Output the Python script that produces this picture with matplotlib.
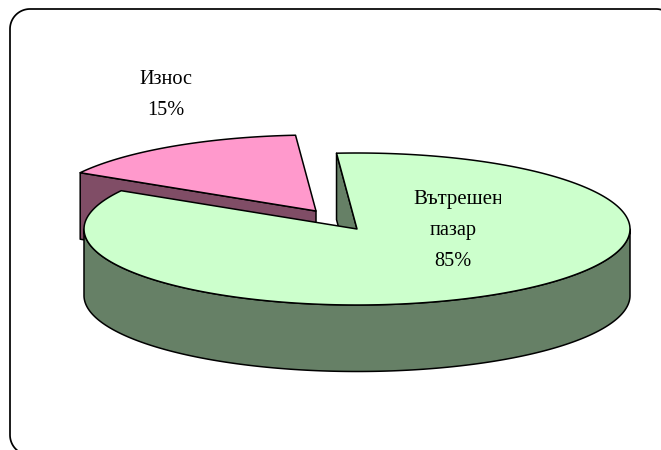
import numpy as np
import matplotlib
matplotlib.use("Agg")
import matplotlib.pyplot as plt
from matplotlib.patches import Polygon, Rectangle

# Data
categories = ["Вътрешен пазар", "Износ"]
shares = [84.6, 15.4]          # underlying shares
percent_labels = ["85%", "15%"]

# Style / layout (pixel space of the 661x450 figure)
W, H = 661, 450
A, B, DEPTH = 273, 76, 66.5
START_ANGLE = -4.3
CENTER_MAIN = (357, 229)
CENTER_EXPLODED = (316, 211)
GREEN, GREEN_DARK = "#CCFFCC", "#668066"
PINK, PINK_DARK = "#FF99CC", "#804D66"
LW = 1.1
FRAME_L, FRAME_T, FRAME_R, FRAME_B, FRAME_RADIUS = 10, 9, 676, 455, 20

plt.rcParams["font.family"] = ["Liberation Serif", "DejaVu Sans"]
fig = plt.figure(figsize=(W / 100, H / 100), dpi=100)
ax = fig.add_axes([0, 0, 1, 1])
ax.set_xlim(0, W)
ax.set_ylim(H, 0)
ax.axis("off")


def arc(center, t0, t1, dy=0, n=240):
    t = np.radians(np.linspace(t0, t1, n))
    return np.column_stack([center[0] + A * np.sin(t), center[1] + dy - B * np.cos(t)])


def add(points, color, z):
    ax.add_patch(Polygon(points, closed=True, facecolor=color, edgecolor="black",
                         linewidth=LW, joinstyle="round", zorder=z))


def corner(xc, yc, a0, a1, r=FRAME_RADIUS, n=30):
    a = np.radians(np.linspace(a0, a1, n))
    return np.column_stack([xc + r * np.cos(a), yc + r * np.sin(a)])


sweeps = [s / sum(shares) * 360 for s in shares]
main_t0, main_t1 = START_ANGLE, START_ANGLE + sweeps[0]
exp_t0, exp_t1 = main_t1 - 360, main_t1 - 360 + sweeps[1]

# Exploded slice (export): side wall, then top
cx, cy = CENTER_EXPLODED
p_left = arc(CENTER_EXPLODED, exp_t0, exp_t0, n=1)[0]
add([p_left, (cx, cy), (cx, cy + DEPTH), (p_left[0], p_left[1] + DEPTH)], PINK_DARK, 1)
add(np.vstack([[(cx, cy)], arc(CENTER_EXPLODED, exp_t0, exp_t1)]), PINK, 2)

# Main slice: rim, radial wall, top
mx, my = CENTER_MAIN
rim_top = arc(CENTER_MAIN, 90, 270)
rim_bottom = arc(CENTER_MAIN, 270, 90, dy=DEPTH)
add(np.vstack([rim_top, rim_bottom]), GREEN_DARK, 3)
p_start = arc(CENTER_MAIN, main_t0, main_t0, n=1)[0]
add([p_start, (mx, my), (mx, my + DEPTH), (p_start[0], p_start[1] + DEPTH)], GREEN_DARK, 3)
add(np.vstack([[(mx, my)], arc(CENTER_MAIN, main_t0, main_t1)]), GREEN, 4)

# Frame, running off the right and bottom edges
r = FRAME_RADIUS
frame = np.vstack([
    corner(FRAME_L + r, FRAME_B - r, 90, 180),
    corner(FRAME_L + r, FRAME_T + r, 180, 270),
    corner(FRAME_R - r, FRAME_T + r, 270, 360),
])
ax.plot(frame[:, 0], frame[:, 1], color="black", linewidth=1.25, zorder=6)

# Labels
FS = 14.6
ax.text(166, 84, categories[1].split()[0], fontsize=FS, ha="center", va="baseline", zorder=7)
ax.text(166, 115, percent_labels[1], fontsize=FS, ha="center", va="baseline", zorder=7)
first, second = categories[0].split()
t = ax.text(413, 204, first, fontsize=15, ha="left", va="baseline", zorder=7)
t.set_clip_path(Rectangle((400, 180), 101, 40, transform=ax.transData))
t.set_clip_on(True)
ax.text(453.5, 235, second, fontsize=FS, ha="center", va="baseline", zorder=7)
ax.text(453, 266, percent_labels[0], fontsize=FS, ha="center", va="baseline", zorder=7)

fig.savefig("out.png", dpi=100, facecolor="white")
